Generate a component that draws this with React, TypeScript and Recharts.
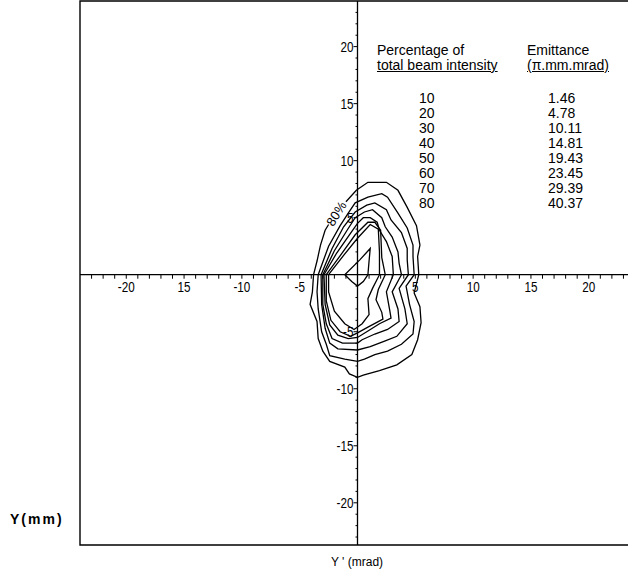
import React from "react";
import { ScatterChart, Scatter, XAxis, YAxis, ReferenceLine, ReferenceArea } from "recharts";

// axis ticks and labels
const xMajor = [-20, -15, -10, -5, 5, 10, 15, 20];
const xMajorLabels = ["-20", "15", "-10", "-5", "5", "10", "15", "20"];
const yMajor = [20, 15, 10, 5, -5, -10, -15, -20];
const yMajorLabels = ["20", "15", "10", "5", "-5", "-10", "-15", "-20"];
const minorTicks = [
  -23, -22, -21, -20, -19, -18, -17, -16, -15, -14, -13, -12, -11, -10, -9, -8, -7, -6, -5, -4, -3, -2, -1,
  1, 2, 3, 4, 5, 6, 7, 8, 9, 10, 11, 12, 13, 14, 15, 16, 17, 18, 19, 20, 21, 22, 23,
];

// legend table
const percentages = [10, 20, 30, 40, 50, 60, 70, 80];
const emittances = [1.46, 4.78, 10.11, 14.81, 19.43, 23.45, 29.39, 40.37];

// contours, Y' (mrad) vs Y (mm)
const c10 = [[-1.1, 0], [0.2, 1.3], [1.1, 2.3], [1.0, 1.2], [0.9, 0], [0.5, -0.6], [0, -1.0], [-0.5, -0.6], [-1.1, 0]];
const c20 = [[-2.5, 0], [-1.2, 1.7], [0, 3.2], [1.1, 4.4], [1.8, 4.0], [1.9, 2.0], [1.9, 0], [1.3, -1.2], [0.9, -2.1], [1.0, -3.5], [0.4, -4.3], [-0.3, -4.8], [-1.1, -4.3], [-2.0, -3.2], [-2.5, -1.5], [-2.5, 0]];
const c30 = [[-2.7, 0], [-1.4, 1.8], [-0.2, 3.5], [0.9, 4.6], [1.5, 4.6], [2.0, 3.9], [2.1, 1.5], [2.4, 0], [1.8, -1.3], [1.6, -2.2], [2.1, -3.3], [2.2, -3.9], [0.9, -4.6], [0, -5.1], [-0.6, -5.4], [-1.5, -5.0], [-2.3, -4.0], [-2.7, -2.3], [-2.7, 0]];
const c40 = [[-2.9, 0], [-1.8, 1.9], [-0.7, 3.5], [0, 4.5], [0.5, 5.0], [1.1, 5.0], [1.7, 4.6], [1.9, 3.9], [2.5, 2.9], [3.0, 1.6], [3.1, 0], [2.5, -1.5], [2.8, -3.2], [2.9, -3.8], [1.9, -4.3], [0.8, -5.0], [0, -5.5], [-0.8, -5.6], [-1.7, -5.3], [-2.4, -4.4], [-2.8, -2.6], [-2.9, 0]];
const c50 = [[-3.0, 0], [-2.0, 2.1], [-0.9, 3.9], [-0.2, 5.0], [0.6, 5.5], [1.3, 5.7], [2.1, 5.0], [2.4, 4.2], [3.0, 3.3], [3.5, 2.0], [3.6, 1.0], [3.8, 0], [3.0, -1.5], [3.5, -3.0], [3.6, -4.1], [2.6, -4.8], [1.5, -5.2], [0.4, -5.7], [0, -6.0], [-1.3, -6.0], [-2.2, -5.6], [-2.7, -4.3], [-3.0, -2.6], [-3.0, 0]];
const c60 = [[-3.15, 0], [-2.2, 2.3], [-1.2, 4.2], [-0.2, 5.5], [0.8, 6.1], [1.5, 6.3], [2.5, 5.7], [2.9, 4.8], [3.8, 3.7], [4.3, 2.3], [4.3, 1.3], [4.4, 0], [3.6, -1.2], [4.1, -3.0], [4.3, -4.3], [3.4, -5.4], [2.4, -5.8], [1.1, -6.3], [0, -6.6], [-1.7, -6.5], [-2.4, -6.0], [-2.8, -4.7], [-3.1, -2.6], [-3.15, 0]];
const c70 = [[-3.4, 0], [-2.5, 2.5], [-1.5, 4.3], [-0.8, 5.4], [-0.2, 6.3], [0.9, 6.8], [2.1, 7.1], [2.6, 6.8], [3.5, 5.4], [4.3, 4.1], [4.8, 2.6], [4.8, 1.6], [4.9, 0], [4.2, -1.0], [4.5, -2.6], [4.9, -4.1], [4.8, -5.2], [3.8, -6.1], [2.6, -6.7], [1.5, -7.0], [0.6, -7.4], [0, -7.6], [-1.1, -7.4], [-2.4, -7.1], [-2.7, -6.1], [-3.1, -5.0], [-3.4, -3.0], [-3.5, -1.5], [-3.4, 0]];
// outer contour is broken where its "80%" label sits
const c80 = [[-1.0, 6.4], [-0.1, 7.4], [0.9, 8.1], [2.5, 8.1], [3.5, 7.4], [4.3, 5.9], [5.1, 4.3], [5.4, 2.6], [5.2, 1.6], [5.3, 0], [4.9, -1.6], [5.4, -2.8], [5.5, -4.2], [5.2, -5.7], [4.7, -7.0], [3.4, -7.9], [1.9, -8.4], [0.5, -8.8], [0, -9.0], [-0.7, -8.7], [-1.1, -8.1], [-2.4, -7.6], [-3.0, -6.7], [-3.4, -5.6], [-3.5, -4.1], [-4.1, -2.6], [-3.9, -1.5], [-3.8, 0], [-3.5, 1.2], [-3.2, 2.6], [-2.8, 3.9], [-2.5, 4.4]];

const contours = [c10, c20, c30, c40, c50, c60, c70, c80];
const label80 = [{ x: -1.75, y: 5.3, text: "80%" }];

const toPts = (c: number[][]) => c.map(([x, y]) => ({ x, y }));

const tickFont = "'Liberation Sans', Arial, sans-serif";

const xMinorData = minorTicks.map((v) => ({ x: v, y: 0 }));
const yMinorData = minorTicks.map((v) => ({ x: 0, y: v }));
const xLabelData = xMajor.map((v, i) => ({ x: v, y: 0, text: xMajorLabels[i] }));
const yLabelData = yMajor.map((v, i) => ({ x: 0, y: v, text: yMajorLabels[i] }));

const Empty = () => <g />;

// condensed tick text, like the original plotter font
function NarrowText({ x, y, anchor, children }: { x: number; y: number; anchor: string; children: React.ReactNode }) {
  return (
    <text
      transform={`translate(${x} ${y}) scale(0.78 1)`}
      textAnchor={anchor}
      fontSize={15}
      fontFamily={tickFont}
      fill="#000"
    >
      {children}
    </text>
  );
}

const rowStyle = { position: "absolute" as const, fontSize: 14, lineHeight: "14px" };

export default function App() {
  return (
    <div
      style={{
        position: "absolute",
        left: 0,
        top: 0,
        width: 628,
        height: 575,
        overflow: "hidden",
        background: "#fff",
        fontFamily: "'Liberation Sans', Arial, sans-serif",
        color: "#000",
      }}
    >
      <ScatterChart width={660} height={575} margin={{ top: 1, right: 25, bottom: 30, left: 80 }}>
        <XAxis type="number" dataKey="x" domain={[-24, 24]} allowDataOverflow hide />
        <YAxis type="number" dataKey="y" domain={[-23.7, 24]} allowDataOverflow hide />
        <ReferenceArea x1={-24} x2={24} y1={-23.7} y2={24} fill="none" stroke="#000" strokeWidth={1.4} />
        <ReferenceLine x={0} stroke="#000" strokeWidth={1.3} />
        <ReferenceLine y={0} stroke="#000" strokeWidth={1.3} />

        <Scatter
          data={xMinorData}
          isAnimationActive={false}
          shape={(p: any) => <line x1={p.cx} y1={p.cy} x2={p.cx} y2={p.cy + 4} stroke="#000" strokeWidth={1} />}
        />
        <Scatter
          data={yMinorData}
          isAnimationActive={false}
          shape={(p: any) => {
            const major = p.payload.y % 5 === 0;
            return <line x1={p.cx - (major ? 4 : 2)} y1={p.cy} x2={p.cx} y2={p.cy} stroke="#000" strokeWidth={1} />;
          }}
        />
        <Scatter
          data={xLabelData}
          isAnimationActive={false}
          shape={(p: any) => (
            <NarrowText x={p.cx} y={p.cy + 17} anchor="middle">
              {p.payload.text}
            </NarrowText>
          )}
        />
        <Scatter
          data={yLabelData}
          isAnimationActive={false}
          shape={(p: any) => (
            <NarrowText x={p.cx - 4} y={p.cy + 5} anchor="end">
              {p.payload.text}
            </NarrowText>
          )}
        />

        {contours.map((c, i) => (
          <Scatter
            key={i}
            data={toPts(c)}
            isAnimationActive={false}
            lineType="joint"
            line={{ stroke: "#000", strokeWidth: 1.3, fill: "none" }}
            shape={Empty}
          />
        ))}
        <Scatter
          data={label80}
          isAnimationActive={false}
          shape={(p: any) => (
            <text
              x={p.cx}
              y={p.cy}
              textAnchor="middle"
              dominantBaseline="middle"
              fontSize={13}
              fontFamily={tickFont}
              transform={`rotate(-58 ${p.cx} ${p.cy})`}
              fill="#000"
            >
              {p.payload.text}
            </text>
          )}
        />
      </ScatterChart>

      {/* legend table */}
      <div style={{ ...rowStyle, left: 377, top: 43 }}>Percentage of</div>
      <div style={{ ...rowStyle, left: 377, top: 58, textDecoration: "underline" }}>total beam intensity</div>
      <div style={{ ...rowStyle, left: 527, top: 43 }}>Emittance</div>
      <div style={{ ...rowStyle, left: 527, top: 58, textDecoration: "underline" }}>(π.mm.mrad)</div>
      {percentages.map((p, i) => (
        <div key={"p" + i} style={{ ...rowStyle, left: 419, top: 91 + i * 15 }}>
          {p}
        </div>
      ))}
      {emittances.map((e, i) => (
        <div key={"e" + i} style={{ ...rowStyle, left: 548, top: 91 + i * 15 }}>
          {e.toFixed(2)}
        </div>
      ))}

      <div style={{ position: "absolute", left: 10, top: 511, fontSize: 14, fontWeight: "bold", letterSpacing: 2 }}>Y(mm)</div>
      <div style={{ position: "absolute", left: 331, top: 555, fontSize: 12 }}>Y ' (mrad)</div>
    </div>
  );
}
